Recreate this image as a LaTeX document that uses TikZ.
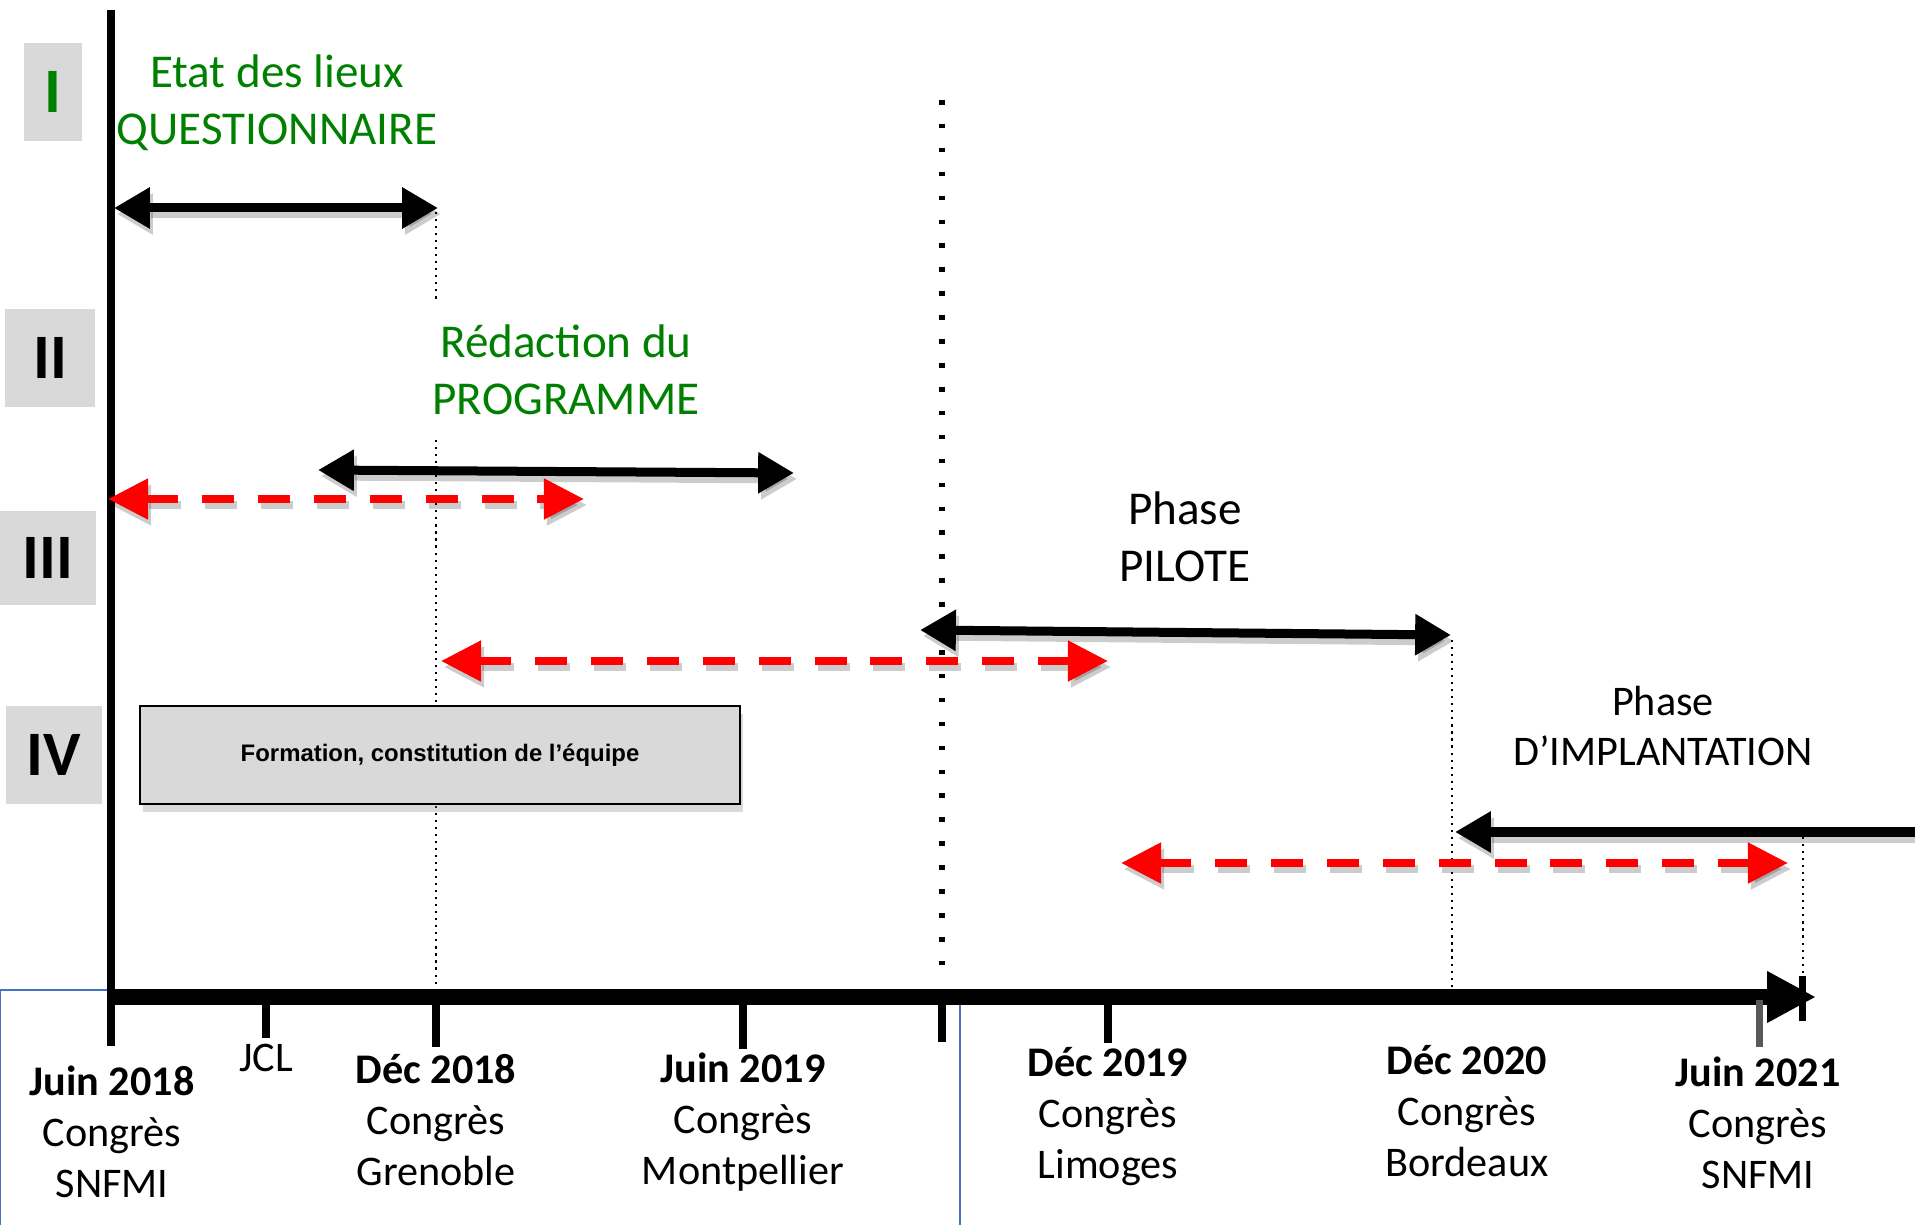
\documentclass[tikz,border=0pt]{standalone}
\usepackage{fontspec}
\setmainfont{Carlito}
\newfontfamily\boxfont{Liberation Sans}
\usetikzlibrary{arrows.meta}
\usetikzlibrary{shadows}
\definecolor{phasegreen}{RGB}{0,128,0}
\definecolor{boxgray}{RGB}{217,217,217}
\definecolor{frameblue}{RGB}{68,114,196}
\tikzset{
	spantip/.tip={Triangle[length=10.2pt, width=11.1pt]},
	plantip/.tip={Triangle[length=11.4pt, width=11.1pt]},
	numeral/.style={fill=boxgray, inner sep=0pt, font=\fontsize{18}{20}\selectfont\bfseries},
	phaselabel/.style={align=center, font=\fontsize{13.4}{16.2}\selectfont},
	datelabel/.style={align=center, font=\fontsize{12}{14.5}\selectfont},
	task/.style={rectangle, draw, line width=0.6pt, fill=boxgray, minimum width=6cm, minimum height=0.98cm,
		font=\boxfont\fontsize{6.8}{8}\selectfont\bfseries,
		drop shadow={shadow xshift=0.8pt, shadow yshift=-2.2pt, opacity=0.3}},
	spanshadow/.style={preaction={draw=black, opacity=0.2, line width=2.56pt, transform canvas={shift={(3,6)}}}},
	planshadow/.style={preaction={draw=black, opacity=0.2, line width=2.3pt, dash pattern=on 9.1pt off 6.8pt, transform canvas={shift={(3,6)}}}},
	span/.style={draw, spanshadow, line width=2.56pt, spantip-spantip},
	plan/.style={draw=red, planshadow, line width=2.3pt, dash pattern=on 9.1pt off 6.8pt, plantip-plantip},
	guide/.style={draw, line width=0.6pt, dash pattern=on 0.6pt off 1.4pt},
	milestone/.style={draw, line width=1.7pt, dash pattern=on 1.3pt off 5.5pt},
	tickmark/.style={draw, line width=2pt},
	axis/.style={draw, line width=4.3pt, -{Triangle[length=13.9pt, width=13.7pt]}}
}

\begin{document}
\begin{tikzpicture}[x=0.01cm, y=-0.01cm]
\useasboundingbox (0,0) rectangle (1915,1225);

\draw[frameblue, line width=0.45pt] (0.5,1225) -- (0.5,990) -- (960,990) -- (960,1225);

\draw[guide] (436,212) -- (436,299);
\draw[guide] (436,440) -- (436,996);
\draw[guide] (1452,640) -- (1452,996);
\draw[guide] (1803,837) -- (1803,996);
\draw[milestone] (942,100) -- (942,972);

\draw[line width=2.3pt] (111,10) -- (111,1046);

\coordinate (origin) at (107,997);
\coordinate (axisend) at (1816,997);

\coordinate (etatL) at (114,208);
\coordinate (etatR) at (438,208);
\coordinate (redactionL) at (318,470);
\coordinate (redactionR) at (794,473);
\coordinate (piloteL) at (920,630);
\coordinate (piloteR) at (1451,635);
\coordinate (implantationL) at (1455,832);
\coordinate (implantationR) at (1915,832);

\coordinate (planAL) at (108,499);
\coordinate (planAR) at (584,499);
\coordinate (planBL) at (441,661);
\coordinate (planBR) at (1108,661);
\coordinate (planCL) at (1121,863);
\coordinate (planCR) at (1788,863);

\draw [span] (etatL) -- (etatR);
\draw [span] (redactionL) -- (redactionR);
\draw [span] (piloteL) -- (piloteR);
\draw [span, spantip-] (implantationL) -- (implantationR);

\draw [plan] (planAL) -- (planAR);
\draw [plan] (planBL) -- (planBR);
\draw [plan] (planCL) -- (planCR);

\draw [axis] (origin) -- (axisend);

\draw[tickmark] (266,997) -- (266,1038);
\draw[tickmark] (436,997) -- (436,1047);
\draw[tickmark] (743,997) -- (743,1049);
\draw[tickmark] (942,1000) -- (942,1042);
\draw[tickmark] (1108,997) -- (1108,1043);
\draw[tickmark, black!65] (1759,1000) -- (1759,1047);
\draw[tickmark] (1802,976) -- (1802,1021);

\node[numeral, minimum width=0.57cm, minimum height=0.97cm, text=phasegreen] (numI) at (53,92) {I};
\node[numeral, minimum width=0.89cm, minimum height=0.97cm] (numII) at (50,358) {II};
\node[numeral, minimum width=0.96cm, minimum height=0.93cm] (numIII) at (48,558) {III};
\node[numeral, minimum width=0.95cm, minimum height=0.97cm] (numIV) at (54,755) {IV};

\node[phaselabel, text=phasegreen] (etat) at (277,103) {Etat des lieux\\QUESTIONNAIRE};
\node[phaselabel, text=phasegreen] (redaction) at (566,370) {Rédaction du\\PROGRAMME};
\node[phaselabel] (pilote) at (1185,537) {Phase\\PILOTE};
\node[datelabel] (implantation) at (1663,726) {Phase\\D’IMPLANTATION};

\node[task] (formation) at (440,755) {\raisebox{-2pt}{Formation, constitution de l’équipe}};

\node[datelabel] (juin18) at (112,1132) {\textbf{Juin 2018}\\Congrès\\SNFMI};
\node[datelabel] (jcl) at (266,1058) {JCL};
\node[datelabel] (dec18) at (436,1120) {\textbf{Déc 2018}\\Congrès\\Grenoble};
\node[datelabel] (juin19) at (743,1122) {\textbf{Juin 2019}\\Congrès\\Montpellier};
\node[datelabel] (dec19) at (1108,1117) {\textbf{Déc 2019}\\Congrès\\Limoges};
\node[datelabel] (dec20) at (1467,1111) {\textbf{Déc 2020}\\Congrès\\Bordeaux};
\node[datelabel] (juin21) at (1758,1123) {\textbf{Juin 2021}\\Congrès\\SNFMI};

\end{tikzpicture}
\end{document}
